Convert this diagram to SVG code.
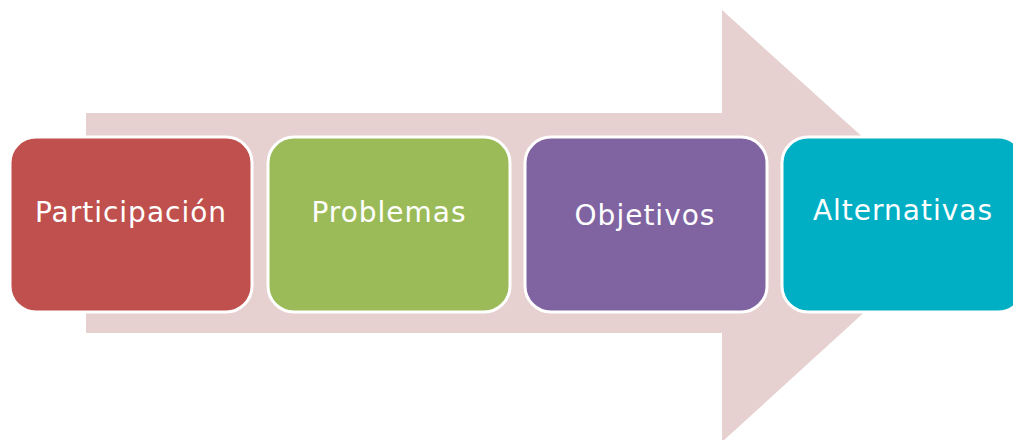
<svg xmlns="http://www.w3.org/2000/svg" width="1013" height="440" viewBox="0 0 1013 440">
<style>
.box{stroke:#ffffff;stroke-width:3}
.lbl{font-family:"DejaVu Sans","Liberation Sans",sans-serif;font-size:28px;fill:#ffffff;text-anchor:middle;letter-spacing:1px}
</style>
<rect width="1013" height="440" fill="#ffffff"/>
<g id="arrow">
<polygon points="86,113 722,113 722,10 960,225 722,442 722,333 86,333" fill="#E6D0D0"/>
</g>
<g id="connectors"></g>
<g id="node-participacion">
<rect class="box" x="10" y="137" width="242" height="175" rx="26" fill="#C0504D"/>
<text class="lbl" x="131" y="222">Participación</text>
</g>
<g id="node-problemas">
<rect class="box" x="268" y="137" width="242" height="175" rx="26" fill="#9BBB59"/>
<text class="lbl" x="389" y="222">Problemas</text>
</g>
<g id="node-objetivos">
<rect class="box" x="525" y="137" width="242" height="175" rx="26" fill="#8064A2"/>
<text class="lbl" x="645" y="225">Objetivos</text>
</g>
<g id="node-alternativas">
<rect class="box" x="782" y="137" width="242" height="175" rx="26" fill="#00AFC4"/>
<text class="lbl" x="903" y="220">Alternativas</text>
</g>
</svg>
